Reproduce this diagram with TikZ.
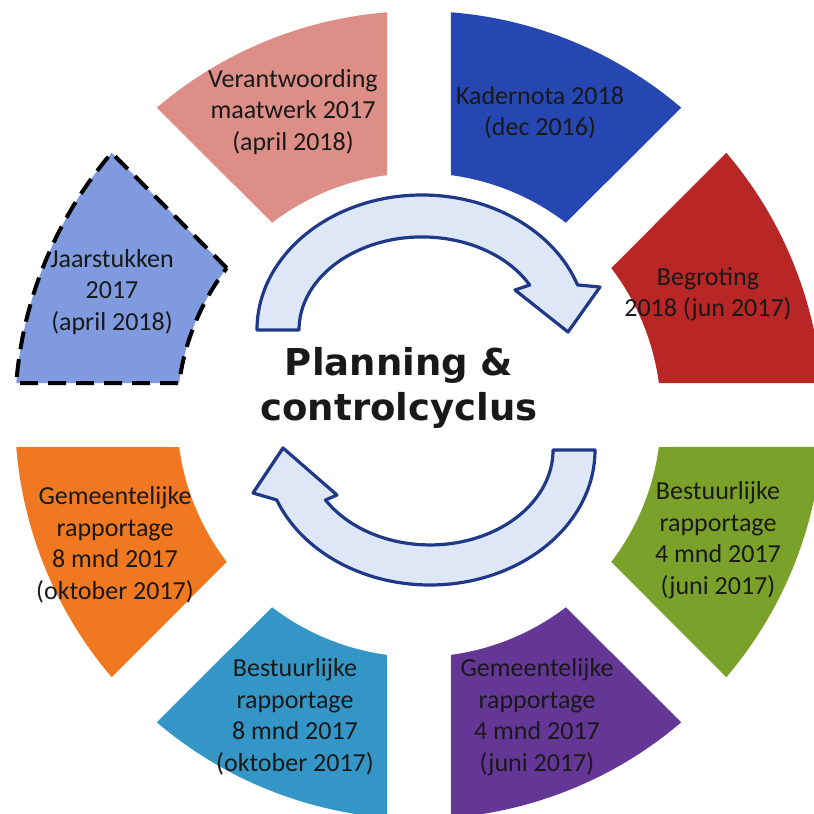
\documentclass[tikz,border=0pt]{standalone}
\usepackage{fontspec}
\setmainfont{Carlito}
\newfontfamily\titlefont{DejaVu Sans}

\definecolor{begrotingred}{RGB}{184,38,38}
\definecolor{kadernotablue}{RGB}{38,70,178}
\definecolor{verantwpink}{RGB}{221,142,134}
\definecolor{jaarblue}{RGB}{128,154,224}
\definecolor{gemorange}{RGB}{240,120,32}
\definecolor{bestcyan}{RGB}{52,150,198}
\definecolor{gempurple}{RGB}{100,54,150}
\definecolor{bestgreen}{RGB}{122,162,42}
\definecolor{arrowblue}{RGB}{32,56,136}
\definecolor{arrowfill}{RGB}{222,231,245}

\begin{document}
\begin{tikzpicture} [
  x=1pt, y=1pt,
  begroting/.style= {fill=begrotingred},
  kadernota/.style= {fill=kadernotablue},
  verantw/.style= {fill=verantwpink},
  jaarstukken/.style= {fill=jaarblue,draw=black,line width=4pt,dash pattern=on 18pt off 10pt},
  gemeente8/.style= {fill=gemorange},
  bestuur8/.style= {fill=bestcyan},
  gemeente4/.style= {fill=gempurple},
  bestuur4/.style= {fill=bestgreen},
  part text/.style= {align=center,text=black!90,font=\fontsize{26}{31.5}\selectfont},
  title text/.style= {align=center,text=black!90,font=\titlefont\bfseries\fontsize{37}{45}\selectfont},
  cycle arrow/.style= {draw=arrowblue,fill=arrowfill,line width=3.2pt,line join=round},
]
\useasboundingbox (-419,-399) rectangle (395,415);

% ring of eight parts, white gaps of 64 along the axes and diagonals
\foreach \a/\part in {0/begroting,45/kadernota,90/verantw,135/jaarstukken,180/gemeente8,225/bestuur8,270/gemeente4,315/bestuur4}
  \path[\part] (\a+7.6:242) -- (\a+4.54:404)
    arc[start angle=\a+4.54,end angle=\a+40.46,radius=404]
    -- (\a+37.4:242)
    arc[start angle=\a+37.4,end angle=\a+7.6,radius=242] -- cycle;

\node (begr) [part text] at (289,121) {Begroting\\2018 (jun 2017)};
\node (kader) [part text] at (121,302) {Kadernota 2018\\(dec 2016)};
\node (verantw) [part text] at (-126,303) {Verantwoording\\maatwerk 2017\\(april 2018)};
\node (jaar) [part text] at (-307,123) {Jaarstukken\\2017\\(april 2018)};
\node (gem8) [part text] at (-304,-130) {Gemeentelijke\\rapportage\\8 mnd 2017\\(oktober 2017)};
\node (best8) [part text] at (-124,-302) {Bestuurlijke\\rapportage\\8 mnd 2017\\(oktober 2017)};
\node (gem4) [part text] at (118,-302) {Gemeentelijke\\rapportage\\4 mnd 2017\\(juni 2017)};
\node (best4) [part text] at (299,-125) {Bestuurlijke\\rapportage\\4 mnd 2017\\(juni 2017)};

% the two curved arrows
\draw[cycle arrow] (-162,85) arc[start angle=180,end angle=19.5,x radius=165,y radius=135]
  -- (181,128) -- (149,83) -- (96,125) -- (110.7,130)
  arc[start angle=28.9,end angle=180,x radius=123,y radius=93] -- cycle;
\draw[cycle arrow] (176,-35) arc[start angle=0,end angle=-158.3,x radius=165,y radius=135]
  -- (-166,-78) -- (-136,-33) -- (-82,-80) -- (-93.5,-85)
  arc[start angle=-148.2,end angle=0,x radius=123,y radius=95] -- cycle;

\node (title) [title text] at (-20,27) {Planning \&\\controlcyclus};
\end{tikzpicture}
\end{document}
